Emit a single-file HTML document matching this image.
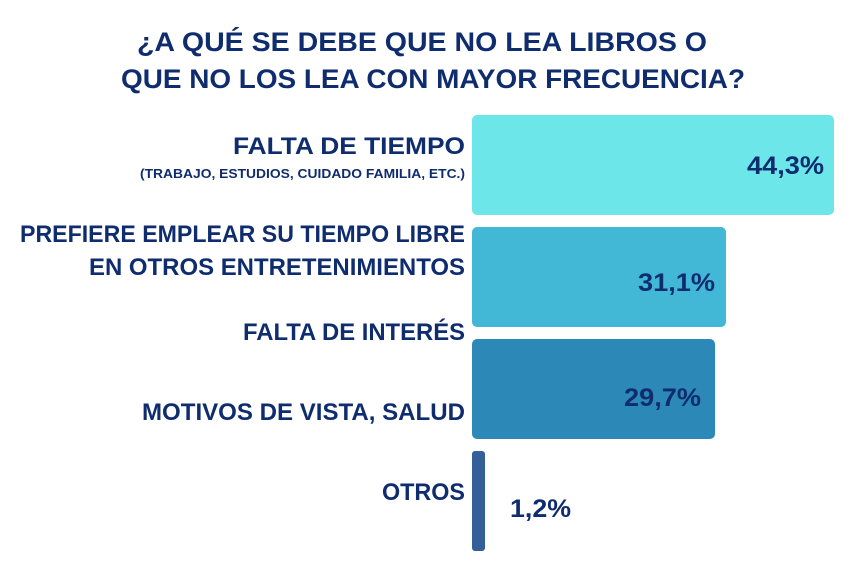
<!DOCTYPE html>
<html><head><meta charset="utf-8"><style>
html,body{margin:0;padding:0;background:#fff;}
svg{display:block;}
text{font-family:"Liberation Sans",sans-serif;font-weight:bold;fill:#0f2d6e;}
</style></head><body>
<svg width="864" height="570" viewBox="0 0 864 570">
<text x="137" y="51" font-size="27" textLength="570" lengthAdjust="spacingAndGlyphs">¿A QUÉ SE DEBE QUE NO LEA LIBROS O</text>
<text x="121" y="88" font-size="27" textLength="624" lengthAdjust="spacingAndGlyphs">QUE NO LOS LEA CON MAYOR FRECUENCIA?</text>

<rect x="472" y="115" width="362" height="100" rx="5" fill="#6ce6e8"/>
<rect x="472" y="227" width="254" height="100" rx="5" fill="#42b7d6"/>
<rect x="472" y="339" width="243" height="100" rx="5" fill="#2c89b7"/>
<rect x="472" y="451" width="13" height="100" rx="3" fill="#355f98"/>

<text x="233" y="154" font-size="24" textLength="232" lengthAdjust="spacingAndGlyphs">FALTA DE TIEMPO</text>
<text x="140" y="178" font-size="13" textLength="325" lengthAdjust="spacingAndGlyphs">(TRABAJO, ESTUDIOS, CUIDADO FAMILIA, ETC.)</text>
<text x="20" y="242" font-size="24" textLength="445" lengthAdjust="spacingAndGlyphs">PREFIERE EMPLEAR SU TIEMPO LIBRE</text>
<text x="89" y="275" font-size="24" textLength="376" lengthAdjust="spacingAndGlyphs">EN OTROS ENTRETENIMIENTOS</text>
<text x="243" y="340" font-size="24" textLength="222" lengthAdjust="spacingAndGlyphs">FALTA DE INTERÉS</text>
<text x="142" y="420" font-size="24" textLength="323" lengthAdjust="spacingAndGlyphs">MOTIVOS DE VISTA, SALUD</text>
<text x="382" y="500" font-size="24" textLength="83" lengthAdjust="spacingAndGlyphs">OTROS</text>

<text x="747" y="174" font-size="25" textLength="77" lengthAdjust="spacingAndGlyphs">44,3%</text>
<text x="638" y="291" font-size="25" textLength="77" lengthAdjust="spacingAndGlyphs">31,1%</text>
<text x="624" y="406" font-size="25" textLength="77" lengthAdjust="spacingAndGlyphs">29,7%</text>
<text x="510" y="517" font-size="25" textLength="61" lengthAdjust="spacingAndGlyphs">1,2%</text>
</svg>
</body></html>
